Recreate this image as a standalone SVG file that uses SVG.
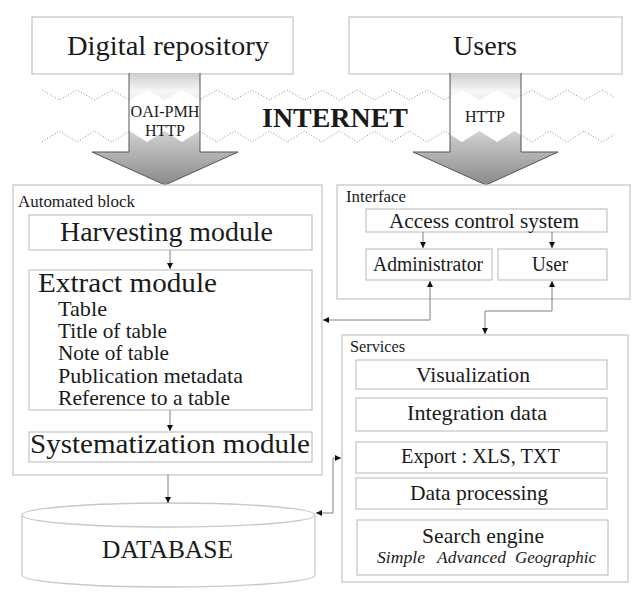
<svg xmlns="http://www.w3.org/2000/svg" width="640" height="596" viewBox="0 0 640 596" font-family="Liberation Serif, Times New Roman, serif">
<style>
.big{font-family:"Liberation Serif","Times New Roman",serif;font-size:28px;fill:#1a1a1a}
.mid{font-family:"Liberation Serif","Times New Roman",serif;font-size:21px;fill:#1a1a1a}
.sm{font-family:"Liberation Serif","Times New Roman",serif;font-size:17px;fill:#1a1a1a}
.tx{font-family:"Liberation Serif","Times New Roman",serif;fill:#1a1a1a}
.c{text-anchor:middle}
.box{fill:#fff;stroke:#c8c8c8;stroke-width:1.3}
.grp{fill:none;stroke:#c8c8c8;stroke-width:1.3}
.zz{fill:none;stroke:#8a8a8a;stroke-width:1;stroke-dasharray:1 2}
.conn{fill:none;stroke:#808080;stroke-width:1}
.arr{stroke:#555;stroke-width:1}
</style>
<defs>
<linearGradient id="g" gradientUnits="userSpaceOnUse" x1="0" y1="73" x2="0" y2="185">
<stop offset="0" stop-color="#cdcdcd"/>
<stop offset="0.16" stop-color="#f6f6f6"/>
<stop offset="0.5" stop-color="#d8d8d8"/>
<stop offset="0.6" stop-color="#c4c4c4"/>
<stop offset="1" stop-color="#8a8a8a"/>
</linearGradient>
<clipPath id="c1"><path d="M129,73 H200 V152 H238 L165,185 L92,152 H129 Z"/></clipPath>
<clipPath id="c2"><path d="M450,73 H521 V152 H558 L486,185 L413,152 H450 Z"/></clipPath>
<polygon id="band" points="42,90 59.5,100 77,90 94.5,100 112,90 129.5,100 147,90 164.5,100 182,90 199.5,100 217,90 234.5,100 252,90 269.5,100 287,90 304.5,100 322,90 339.5,100 357,90 374.5,100 392,90 409.5,100 427,90 444.5,100 462,90 479.5,100 497,90 514.5,100 532,90 549.5,100 567,90 584.5,100 602,90 619.5,100 619.5,131 602,142 584.5,131 567,142 549.5,131 532,142 514.5,131 497,142 479.5,131 462,142 444.5,131 427,142 409.5,131 392,142 374.5,131 357,142 339.5,131 322,142 304.5,131 287,142 269.5,131 252,142 234.5,131 217,142 199.5,131 182,142 164.5,131 147,142 129.5,131 112,142 94.5,131 77,142 59.5,131 42,142"/>
<marker id="m" viewBox="0 0 6 6" refX="6" refY="3" markerWidth="6" markerHeight="6" markerUnits="userSpaceOnUse" orient="auto-start-reverse">
<path d="M0,0 L6,3 L0,6 Z" fill="#111"/>
</marker>
</defs>
<rect width="640" height="596" fill="#fff"/>

<g id="repository">
<rect class="box" x="32" y="17" width="261" height="57"/>
<text class="big c" x="168" y="55" textLength="202" lengthAdjust="spacingAndGlyphs">Digital repository</text>
</g>
<g id="users">
<rect class="box" x="349" y="17" width="273" height="57"/>
<text class="big c" x="485" y="55" textLength="64" lengthAdjust="spacingAndGlyphs">Users</text>
</g>

<g id="internet">
<polyline class="zz" points="42,90 59.5,100 77,90 94.5,100 112,90 129.5,100 147,90 164.5,100 182,90 199.5,100 217,90 234.5,100 252,90 269.5,100 287,90 304.5,100 322,90 339.5,100 357,90 374.5,100 392,90 409.5,100 427,90 444.5,100 462,90 479.5,100 497,90 514.5,100 532,90 549.5,100 567,90 584.5,100 602,90 615,97.5"/>
<polyline class="zz" points="42,142 59.5,131 77,142 94.5,131 112,142 129.5,131 147,142 164.5,131 182,142 199.5,131 217,142 234.5,131 252,142 269.5,131 287,142 304.5,131 322,142 339.5,131 357,142 374.5,131 392,142 409.5,131 427,142 444.5,131 462,142 479.5,131 497,142 514.5,131 532,142 549.5,131 567,142 584.5,131 602,142 615,134"/>
<text class="tx c" x="335" y="127" style="font-size:28px;font-weight:bold" textLength="146" lengthAdjust="spacingAndGlyphs">INTERNET</text>
</g>

<g id="arrow-repository">
<path d="M129,73 H200 V152 H238 L165,185 L92,152 H129 Z" fill="url(#g)"/>
<use href="#band" fill="#fff" clip-path="url(#c1)"/>
<path class="arr" d="M129,73 V152 H92 L165,185 L238,152 H200 V73" fill="none"/>
<text class="tx c" x="165" y="117" style="font-size:16px" textLength="69" lengthAdjust="spacingAndGlyphs">OAI-PMH</text>
<text class="tx c" x="165" y="136" style="font-size:16px" textLength="40" lengthAdjust="spacingAndGlyphs">HTTP</text>
</g>
<g id="arrow-users">
<path d="M450,73 H521 V152 H558 L486,185 L413,152 H450 Z" fill="url(#g)"/>
<use href="#band" fill="#fff" clip-path="url(#c2)"/>
<path class="arr" d="M450,73 V152 H413 L486,185 L558,152 H521 V73" fill="none"/>
<text class="tx c" x="485" y="122" style="font-size:16px" textLength="40" lengthAdjust="spacingAndGlyphs">HTTP</text>
</g>

<g id="automated-block">
<rect class="grp" x="13" y="185" width="309" height="290"/>
<text class="sm" x="18" y="207" textLength="117" lengthAdjust="spacingAndGlyphs">Automated block</text>
</g>
<g id="harvesting">
<rect class="box" x="29" y="215" width="283" height="35"/>
<text class="big c" x="166.5" y="241" textLength="213" lengthAdjust="spacingAndGlyphs">Harvesting module</text>
</g>
<g id="extract">
<rect class="box" x="29" y="270" width="283" height="140"/>
<text class="tx" x="38" y="292" style="font-size:27px" textLength="179" lengthAdjust="spacingAndGlyphs">Extract module</text>
<text class="mid" x="58" y="315.5" textLength="49" lengthAdjust="spacingAndGlyphs">Table</text>
<text class="mid" x="58" y="337.5" textLength="109" lengthAdjust="spacingAndGlyphs">Title of table</text>
<text class="mid" x="58" y="360" textLength="111" lengthAdjust="spacingAndGlyphs">Note of table</text>
<text class="mid" x="58" y="383" textLength="185" lengthAdjust="spacingAndGlyphs">Publication metadata</text>
<text class="mid" x="58" y="405" textLength="172" lengthAdjust="spacingAndGlyphs">Reference to a table</text>
</g>
<g id="systematization">
<rect class="box" x="29" y="432" width="283" height="30"/>
<text class="big c" x="170" y="453" textLength="280" lengthAdjust="spacingAndGlyphs">Systematization module</text>
</g>

<g id="database">
<path d="M22,515 V575 A146.5,12 0 0 0 315,575 V515" fill="#fff" stroke="#c8c8c8" stroke-width="1.3"/>
<ellipse cx="168.5" cy="515" rx="146.5" ry="12" fill="#fff" stroke="#c8c8c8" stroke-width="1.3"/>
<text class="tx c" x="167.5" y="558" style="font-size:26px" textLength="131" lengthAdjust="spacingAndGlyphs">DATABASE</text>
</g>

<g id="interface">
<rect class="grp" x="337" y="185" width="293" height="114"/>
<text class="sm" x="346" y="202" textLength="60" lengthAdjust="spacingAndGlyphs">Interface</text>
</g>
<g id="access-control">
<rect class="box" x="366" y="209" width="241" height="23"/>
<text class="mid c" x="484" y="228" textLength="190" lengthAdjust="spacingAndGlyphs">Access control system</text>
</g>
<g id="administrator">
<rect class="box" x="366" y="249" width="126" height="31"/>
<text class="tx c" x="428" y="271" style="font-size:20px" textLength="110" lengthAdjust="spacingAndGlyphs">Administrator</text>
</g>
<g id="user">
<rect class="box" x="498" y="249" width="109" height="31"/>
<text class="tx c" x="550" y="271" style="font-size:20px" textLength="36" lengthAdjust="spacingAndGlyphs">User</text>
</g>

<g id="services">
<rect class="grp" x="342" y="335" width="286" height="247"/>
<text class="sm" x="350" y="352" textLength="55" lengthAdjust="spacingAndGlyphs">Services</text>
</g>
<g id="visualization">
<rect class="box" x="356" y="360" width="251" height="29"/>
<text class="mid c" x="473" y="382" textLength="114" lengthAdjust="spacingAndGlyphs">Visualization</text>
</g>
<g id="integration">
<rect class="box" x="356" y="398" width="251" height="33"/>
<text class="mid c" x="477" y="420" textLength="140" lengthAdjust="spacingAndGlyphs">Integration data</text>
</g>
<g id="export">
<rect class="box" x="356" y="442" width="251" height="31"/>
<text class="mid c" x="480.5" y="463" textLength="159" lengthAdjust="spacingAndGlyphs">Export : XLS, TXT</text>
</g>
<g id="data-processing">
<rect class="box" x="356" y="478" width="251" height="31"/>
<text class="mid c" x="479" y="500" textLength="138" lengthAdjust="spacingAndGlyphs">Data processing</text>
</g>
<g id="search-engine">
<rect class="box" x="357" y="520" width="251" height="55"/>
<text class="mid c" x="483" y="543" textLength="122" lengthAdjust="spacingAndGlyphs">Search engine</text>
<text class="tx" x="377" y="563" style="font-size:17px;font-style:italic" textLength="48" lengthAdjust="spacingAndGlyphs">Simple</text>
<text class="tx" x="437" y="563" style="font-size:17px;font-style:italic" textLength="69" lengthAdjust="spacingAndGlyphs">Advanced</text>
<text class="tx" x="515" y="563" style="font-size:17px;font-style:italic" textLength="81" lengthAdjust="spacingAndGlyphs">Geographic</text>
</g>

<g id="connectors">
<path class="conn" d="M170,250 V269" marker-end="url(#m)"/>
<path class="conn" d="M170,410 V431" marker-end="url(#m)"/>
<path class="conn" d="M168,475 V503" marker-end="url(#m)"/>
<path class="conn" d="M423,232 V248" marker-end="url(#m)"/>
<path class="conn" d="M552,232 V248" marker-end="url(#m)"/>
<path class="conn" d="M430,281 V320 H323" marker-start="url(#m)" marker-end="url(#m)"/>
<path class="conn" d="M552,281 V311 H485 V334" marker-start="url(#m)" marker-end="url(#m)"/>
<path class="conn" d="M341,458 H333 V513 H316" marker-start="url(#m)" marker-end="url(#m)"/>
</g>
</svg>
